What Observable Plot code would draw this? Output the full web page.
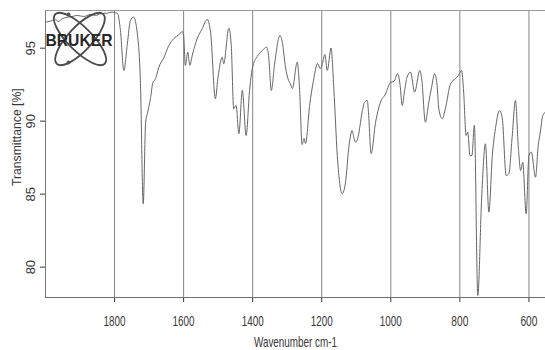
<!DOCTYPE html>
<html>
<head>
<meta charset="utf-8">
<script src="https://cdn.jsdelivr.net/npm/d3@7"></script>
<script src="https://cdn.jsdelivr.net/npm/@observablehq/plot@0.6"></script>
<style>
  html, body { margin: 0; padding: 0; background: #ffffff; }
  #chart { position: relative; width: 545px; height: 350px; overflow: hidden; }
  #logo { position: absolute; left: 0; top: 0; pointer-events: none; }
</style>
</head>
<body>
<div id="chart"></div>
<script>
// Wavenumber (cm-1) and transmittance (%)
const wavenumber = [2000,1986,1971,1962,1952,1937,1923,1908,1889,1870,
  1855,1841,1821,1807,1797,1791,1783,1773,1763,1754,
  1745,1734,1725,1717,1710,1704,1696,1689,1681,1672,
  1657,1643,1628,1614,1604,1600,1595,1588,1582,1575,
  1561,1546,1532,1522,1508,1501,1488,1484,1469,1462,
  1455,1448,1440,1430,1419,1409,1401,1387,1372,1360,
  1354,1346,1337,1321,1314,1305,1296,1291,1285,1271,
  1264,1257,1251,1247,1235,1224,1212,1204,1198,1191,
  1184,1173,1165,1155,1149,1141,1131,1122,1112,1107,
  1102,1096,1083,1076,1068,1065,1057,1044,1030,1015,
  1006,1001,991,980,973,967,960,953,943,931,
  916,910,900,890,882,873,866,861,851,842,
  827,813,804,795,789,782,777,771,765,758,
  748,737,726,716,706,697,685,677,666,658,
  649,639,631,624,618,608,600,593,581,573,
  567,560,552];
const transmittance = [96.78,96.85,96.95,96.83,97.01,97.12,97.17,97.24,97.17,97.31,
  97.24,97.36,97.40,97.47,97.42,97.36,96.21,93.47,95.30,96.90,
  97.12,95.99,92.56,84.34,89.93,90.62,91.55,92.65,92.92,93.68,
  94.36,95.18,95.66,95.92,96.14,95.87,93.82,94.73,93.82,94.50,
  95.64,96.33,96.97,96.10,91.53,92.90,94.38,93.93,96.37,95.18,
  90.85,91.08,89.14,92.10,89.02,92.10,93.61,94.43,94.84,95.07,
  94.50,92.10,93.82,95.87,95.39,93.70,92.79,92.56,92.24,94.04,
  92.10,88.40,88.82,88.47,91.08,92.79,93.95,93.59,93.95,94.57,
  93.47,95.01,92.22,87.65,85.94,85.03,85.82,88.11,89.36,88.88,
  88.56,88.79,90.62,91.30,91.42,90.73,87.77,89.93,91.30,91.88,
  92.45,92.65,92.72,93.25,92.45,91.08,92.10,93.01,93.36,91.99,
  93.47,92.79,89.93,91.30,92.31,93.25,92.45,90.85,90.16,90.85,
  92.56,92.90,93.13,93.47,91.99,89.02,89.25,87.65,87.65,89.71,
  78.06,84.68,88.45,83.77,87.65,89.48,90.73,90.16,86.28,86.40,
  88.79,91.42,88.34,86.62,87.19,83.66,87.65,87.88,86.16,88.34,
  89.25,90.39,90.62];
const xTicks = [1800, 1600, 1400, 1200, 1000, 800, 600];
const yTicks = [80, 85, 90, 95];
const xTitle = ["Wavenumber cm-1"];
const yTitle = ["Transmittance [%]"];
const logoText = ["BRUKER"];

const xDomain = [2000, 552];
const yDomain = [77.92, 97.58];

const n = Math.min(wavenumber.length, transmittance.length);
const spectrum = d3.range(n).map(i => ({wn: wavenumber[i], t: transmittance[i]}));

const textColor = "#383838";
const font = "'Liberation Sans', Arial, Helvetica, sans-serif";

const plot = Plot.plot({
  width: 545,
  height: 350,
  marginLeft: 45,
  marginRight: 0,
  marginTop: 10,
  marginBottom: 53,
  style: {fontFamily: font, color: textColor, background: "transparent", overflow: "visible"},
  x: {domain: xDomain, ticks: xTicks, tickSize: 5, tickFormat: () => "", label: null},
  y: {domain: yDomain, ticks: yTicks, tickSize: 5, tickFormat: () => "", label: null},
  marks: [
    Plot.ruleX(xTicks, {stroke: "#858585", strokeWidth: 1}),
    Plot.ruleX([xDomain[0]], {stroke: "#7a7a7a", strokeWidth: 1}),
    Plot.ruleY([yDomain[0]], {stroke: "#6e6e6e", strokeWidth: 1.2}),
    Plot.ruleY([yDomain[1]], {stroke: "#9a9a9a", strokeWidth: 1}),
    Plot.line(spectrum, {x: "wn", y: "t", stroke: "#666666", strokeWidth: 1, curve: "monotone-x"}),
    Plot.text(xTicks, {x: d => d, frameAnchor: "bottom", dy: 18, lineAnchor: "top", text: d => String(d),
      fontSize: 15, fill: textColor}),
    Plot.text(yTicks, {x: xDomain[0], y: d => d, dx: -14.7, rotate: -90, text: d => String(d),
      fontSize: 13, fill: textColor, textAnchor: "middle", lineAnchor: "middle"}),
    Plot.text(xTitle, {frameAnchor: "bottom", dy: 39, lineAnchor: "top", fontSize: 15, fill: textColor}),
    Plot.text(yTitle, {frameAnchor: "left", dx: -28.5, dy: -16.8, rotate: -90, fontSize: 12.2,
      fill: textColor, textAnchor: "middle", lineAnchor: "middle"})
  ]
});

document.getElementById("chart").appendChild(plot);

// compress horizontal texts like the scanned original
const xTickStrings = new Set(xTicks.map(String));
plot.querySelectorAll("text").forEach(t => {
  const s = t.textContent.trim();
  let len = null;
  if (xTickStrings.has(s)) len = s.length === 4 ? 22 : 17;
  else if (s === xTitle[0]) len = 83;
  if (len != null) {
    t.setAttribute("textLength", len);
    t.setAttribute("lengthAdjust", "spacingAndGlyphs");
    t.querySelectorAll("tspan").forEach(ts => {
      ts.setAttribute("textLength", len);
      ts.setAttribute("lengthAdjust", "spacingAndGlyphs");
    });
  }
});

// BRUKER logo overlay (decoration)
const ns = "http://www.w3.org/2000/svg";
const logo = document.createElementNS(ns, "svg");
logo.setAttribute("id", "logo");
logo.setAttribute("width", 545);
logo.setAttribute("height", 350);
function el(name, attrs) {
  const e = document.createElementNS(ns, name);
  for (const k in attrs) e.setAttribute(k, attrs[k]);
  logo.appendChild(e);
  return e;
}
el("ellipse", {cx: 80, cy: 39, rx: 35, ry: 12, transform: "rotate(45 80 39)", fill: "none", stroke: "#4a4a4a", "stroke-width": 1.8});
el("ellipse", {cx: 80, cy: 39, rx: 34, ry: 12, transform: "rotate(-47 80 39)", fill: "none", stroke: "#4a4a4a", "stroke-width": 1.8});
el("circle", {cx: 68.5, cy: 14.5, r: 2, fill: "#555"});
el("circle", {cx: 68.5, cy: 62.5, r: 2, fill: "#555"});
const lt = el("text", {x: 45.5, y: 45.5, "font-family": font, "font-weight": "bold", "font-size": 16.5,
  fill: "#262626", textLength: 67, lengthAdjust: "spacingAndGlyphs"});
lt.textContent = logoText[0];
document.getElementById("chart").appendChild(logo);
</script>
</body>
</html>
